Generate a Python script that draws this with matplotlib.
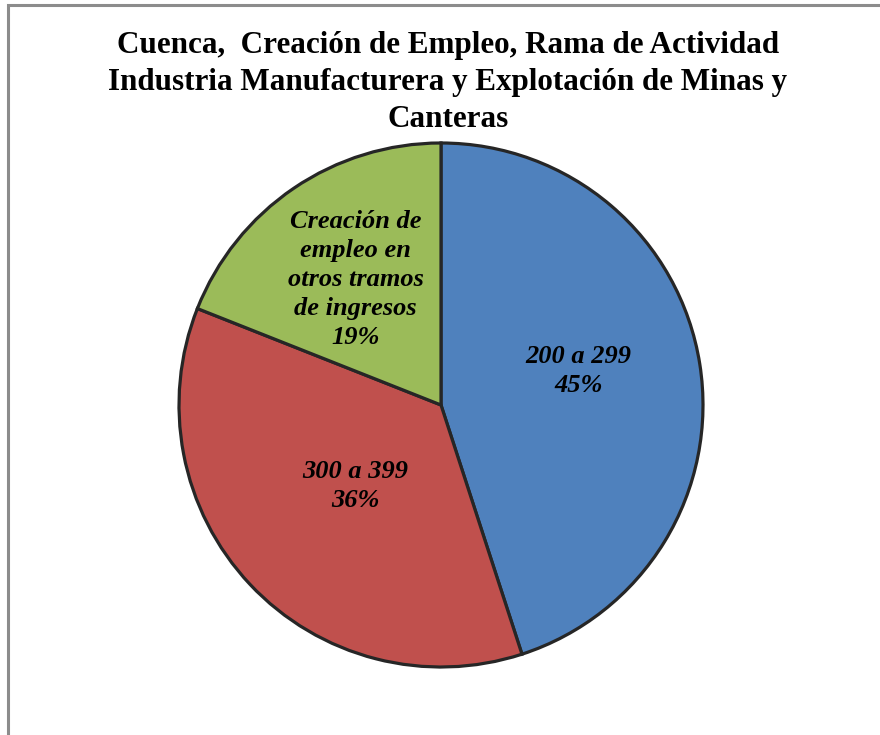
import numpy as np
import matplotlib.pyplot as plt
from matplotlib.patches import Rectangle

# data
labels = ['200 a 299', '300 a 399', 'Creación de\nempleo en\notros tramos\nde ingresos']
shares = [45, 36, 19]
colors = ['#4F81BD', '#C0504D', '#9BBB59']
title = 'Cuenca,  Creación de Empleo, Rama de Actividad\nIndustria Manufacturera y Explotación de Minas y\nCanteras'

plt.rcParams['font.family'] = ['Liberation Serif', 'DejaVu Serif']

W, H = 880, 735
fig = plt.figure(figsize=(W / 100, H / 100), dpi=100)

# pie centre (441, 405) px, radius 262 px
cx, cy, r = 441, 405, 262
ax = fig.add_axes([(cx - r) / W, (H - cy - r) / H, 2 * r / W, 2 * r / H])
wedges, _ = ax.pie(shares, colors=colors, startangle=90, counterclock=False,
                   wedgeprops=dict(edgecolor='#262626', linewidth=2.3))
for w in wedges:
    w.set_clip_on(False)
ax.set_xlim(-1, 1)
ax.set_ylim(-1, 1)
ax.axis('off')

# label placement: distance from centre and angle nudge (deg), per slice
dists = [0.54, 0.45, 0.58]
nudge = [5, 0, 0]
for w, lab, pct, d, dn in zip(wedges, labels, shares, dists, nudge):
    mid = np.deg2rad((w.theta1 + w.theta2) / 2 + dn)
    ax.text(d * np.cos(mid), d * np.sin(mid), '%s\n%d%%' % (lab, pct),
            ha='center', va='center', fontsize=19, fontweight='bold',
            fontstyle='italic', linespacing=1.33)

fig.text(448 / W, 1 - 31 / H, title, ha='center', va='top', fontsize=22.4,
         fontweight='bold', linespacing=1.37)

# chart-area frame (runs off the right and bottom edges)
fig.add_artist(Rectangle((7.5 / W, -0.1), 1.2, 1.1 - 4.5 / H,
                         transform=fig.transFigure, fill=False,
                         edgecolor='#8c8c8c', linewidth=2.2))

fig.savefig('out.png', dpi=100)
